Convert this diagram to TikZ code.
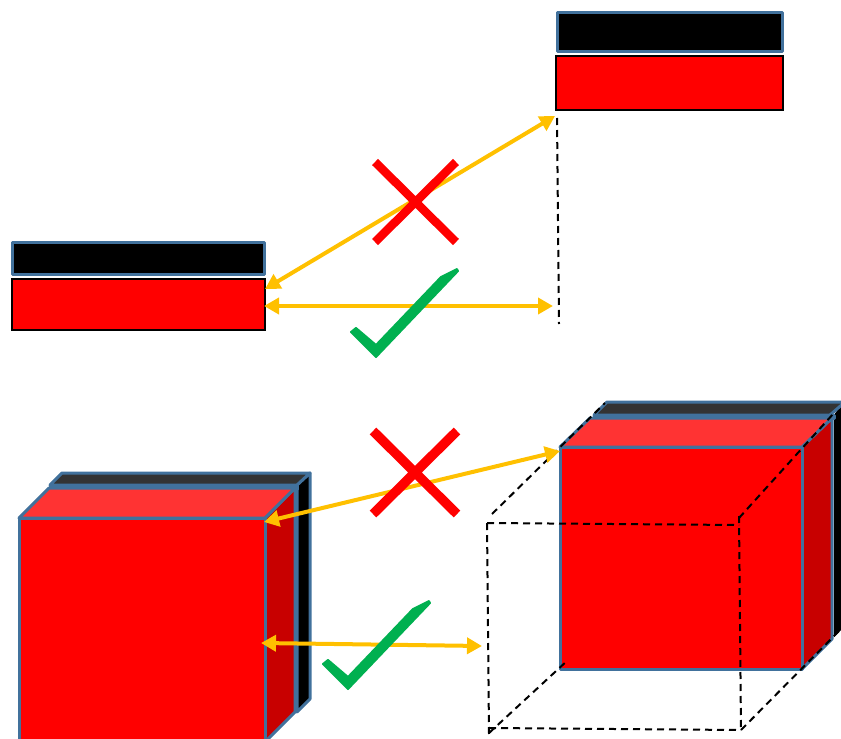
\documentclass[tikz,border=0pt]{standalone}
\usepackage{amsmath}
\usepackage{tikz}
\usetikzlibrary{arrows.meta}

\definecolor{edgeblue}{HTML}{41719C}
\definecolor{arrowgold}{HTML}{FFC000}
\definecolor{tickgreen}{HTML}{00B050}
\definecolor{topred}{HTML}{FF3333}
\definecolor{sidered}{HTML}{C80000}
\definecolor{topdark}{HTML}{333333}

\tikzset{
  face/.style={draw=edgeblue, line width=3pt, line join=round},
  plate/.style={draw=black, line width=2.6pt, fill=red},
  hidden/.style={draw=black, line width=2pt, dash pattern=on 7pt off 5pt},
  match/.style={draw=arrowgold, line width=4pt, {Triangle[length=15pt,width=16pt]}-{Triangle[length=15pt,width=16pt]}},
  cross/.style={draw=red, line width=#1}
}

\newcommand{\drawtick}[2]{
  \filldraw[tickgreen, line width=2pt, line join=round, shift={(#1,#2)}]
    (351,332) -- (356,328) -- (376,345) -- (441,277) -- (457,269) -- (458,271)
    -- (376,357) -- cycle;
}

\begin{document}
\begin{tikzpicture}[x=1pt, y=-1pt]
  \clip (0,0) rectangle (841,739);

  % flat plates
  \draw[face, fill=black] (557,12) rectangle (782,51);
  \draw[plate] (556,56) rectangle (783,110);
  \draw[face, fill=black] (12,242) rectangle (264,274);
  \draw[plate] (12,279) rectangle (265,330);

  % left cube, back sheet first
  \draw[face, fill=black] (297,485) -- (310,473) -- (310,699) -- (297,712) -- cycle;
  \draw[face, fill=topdark] (50,485) -- (62,473) -- (310,473) -- (297,485) -- cycle;
  \draw[face, fill=edgeblue] (50,485) rectangle (297,489);
  \draw[face, fill=sidered] (265,518) -- (295,488) -- (295,712) -- (265,742) -- cycle;
  \draw[face, fill=topred] (19,518) -- (49,488) -- (295,488) -- (265,518) -- cycle;
  \draw[face, fill=red] (19,518) rectangle (265,745);

  % right cube, same order
  \fill[black] (834,415) -- (841,405) -- (841,630) -- (834,637) -- cycle;
  \draw[face, fill=topdark] (594,415) -- (607,402) -- (845,402) -- (830,415) -- cycle;
  \draw[face, fill=edgeblue] (594,415) rectangle (834,418);
  \draw[face, fill=sidered] (802,447) -- (832,418) -- (832,639) -- (802,669) -- cycle;
  \draw[face, fill=topred] (560,447) -- (590,418) -- (832,418) -- (802,447) -- cycle;
  \draw[face, fill=red] (560,447) rectangle (802,669);

  % dashed outlines
  \draw[hidden] (557,118) -- (559,324);
  \coordinate (ftl) at (487,523);
  \coordinate (ftr) at (739,525);
  \coordinate (fbl) at (489,728);
  \coordinate (fbr) at (741,730);
  \draw[hidden] (ftl) -- (ftr);
  \draw[hidden] (ftl) -- (489,734);
  \draw[hidden] (fbl) -- (fbr);
  \draw[hidden] (739,516) -- (fbr);
  \draw[hidden] (492,514) -- (605,403);
  \draw[hidden] (739,518) -- (834,413);
  \draw[hidden] (489,733) -- (568,660);
  \draw[hidden] (fbr) -- (841,629);

  % arrows
  \coordinate (flatleftA) at (265,289);
  \coordinate (flatrightA) at (555,116);
  \coordinate (flatleftB) at (264,306);
  \coordinate (flatrightB) at (553,306);
  \coordinate (cubeleftA) at (264,522);
  \coordinate (cuberightA) at (560,451);
  \coordinate (cubeleftB) at (261,643);
  \coordinate (cuberightB) at (482,646);
  \draw[match] (flatleftA) -- (flatrightA);
  \draw[match] (flatleftB) -- (flatrightB);
  \draw[match] (cubeleftA) -- (cuberightA);
  \draw[match] (cubeleftB) -- (cuberightB);

  % marks
  \draw[cross=8.5pt] (375,162) -- (456,242) (456,162) -- (375,242);
  \draw[cross=9.5pt] (373,431) -- (457,514) (457,431) -- (373,514);
  \drawtick{0}{0}
  \drawtick{-28}{332}
\end{tikzpicture}
\end{document}
